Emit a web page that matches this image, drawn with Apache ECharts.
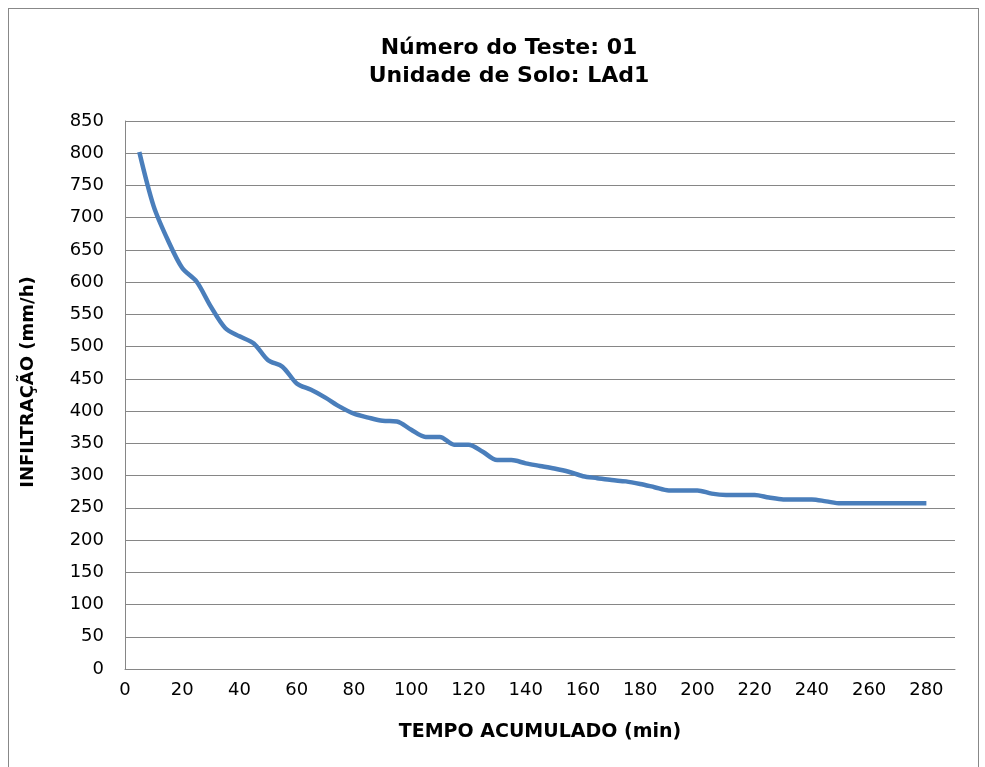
<!DOCTYPE html>
<html>
<head>
<meta charset="utf-8">
<script src="https://cdn.jsdelivr.net/npm/echarts@6/dist/echarts.min.js"></script>
<style>
  html, body { margin: 0; padding: 0; background: #fff; }
  #frame { position: absolute; left: 8px; top: 8px; width: 969px; height: 770px;
    border-left: 1px solid #888; border-top: 1px solid #888; border-right: 1px solid #888; }
  #main { position: absolute; left: 0; top: 0; width: 985px; height: 767px; }
</style>
</head>
<body>
<div id="frame"></div>
<div id="main"></div>
<script>
// tempo acumulado (min)
var tempo = [5, 10, 15, 20, 25, 30, 35, 40, 45, 50, 55, 60, 65, 70, 75, 80, 85, 90, 95, 100,
  105, 110, 115, 120, 125, 130, 135, 140, 145, 150, 155, 160, 165, 170, 175, 180, 185, 190, 195, 200,
  205, 210, 215, 220, 225, 230, 235, 240, 245, 250, 255, 260, 265, 270, 275, 280]
// infiltracao (mm/h)
var infiltracao = [802, 718, 665, 622, 601, 562, 529, 516, 505, 479, 469, 443, 433, 421, 407, 396, 390, 385, 384, 371,
  360, 360, 348, 348, 337, 324, 324, 319, 315, 311, 306, 299, 296, 293, 291, 287, 282, 277, 277, 277,
  272, 270, 270, 270, 266, 263, 263, 263, 260, 257, 257, 257, 257, 257, 257, 257]

var points = tempo.map(function (t, i) { return [t, infiltracao[i]] })

var chart = echarts.init(document.getElementById('main'))
var option = {
  animation: false,
  textStyle: { fontFamily: 'DejaVu Sans, Arial, sans-serif' },
  title: {
    text: 'Número do Teste: 01\nUnidade de Solo: LAd1',
    left: 504,
    textAlign: 'center',
    top: 29,
    textStyle: { fontFamily: 'DejaVu Sans', fontSize: 22, fontWeight: 'bold', color: '#000', lineHeight: 28 }
  },
  grid: { left: 125, right: 30, top: 121, bottom: 98 },
  xAxis: {
    type: 'value',
    min: 0,
    max: 290,
    interval: 20,
    name: 'TEMPO ACUMULADO (min)',
    nameLocation: 'middle',
    nameGap: 54,
    nameTextStyle: { fontFamily: 'DejaVu Sans', fontSize: 19, fontWeight: 'bold', color: '#000' },
    axisLine: { show: true, lineStyle: { color: '#868686', width: 1 } },
    axisTick: { show: false },
    splitLine: { show: false },
    axisLabel: { fontFamily: 'DejaVu Sans', fontSize: 18, color: '#000', margin: 12, showMaxLabel: false }
  },
  yAxis: {
    type: 'value',
    min: 0,
    max: 850,
    interval: 50,
    name: 'INFILTRAÇÃO (mm/h)',
    nameLocation: 'middle',
    nameGap: 88,
    nameTextStyle: { fontFamily: 'DejaVu Sans', fontSize: 18, fontWeight: 'bold', color: '#000', padding: [0, 0, 0, 26] },
    axisLine: { show: true, lineStyle: { color: '#868686', width: 1 } },
    axisTick: { show: false },
    splitLine: { show: true, lineStyle: { color: '#868686', width: 1 } },
    axisLabel: { fontFamily: 'DejaVu Sans', fontSize: 18, color: '#000', margin: 21 }
  },
  series: [
    {
      type: 'line',
      data: points,
      smooth: 0.3,
      showSymbol: false,
      lineStyle: { color: '#4A7EBB', width: 4.5 }
    }
  ]
}
chart.setOption(option)
</script>
</body>
</html>
